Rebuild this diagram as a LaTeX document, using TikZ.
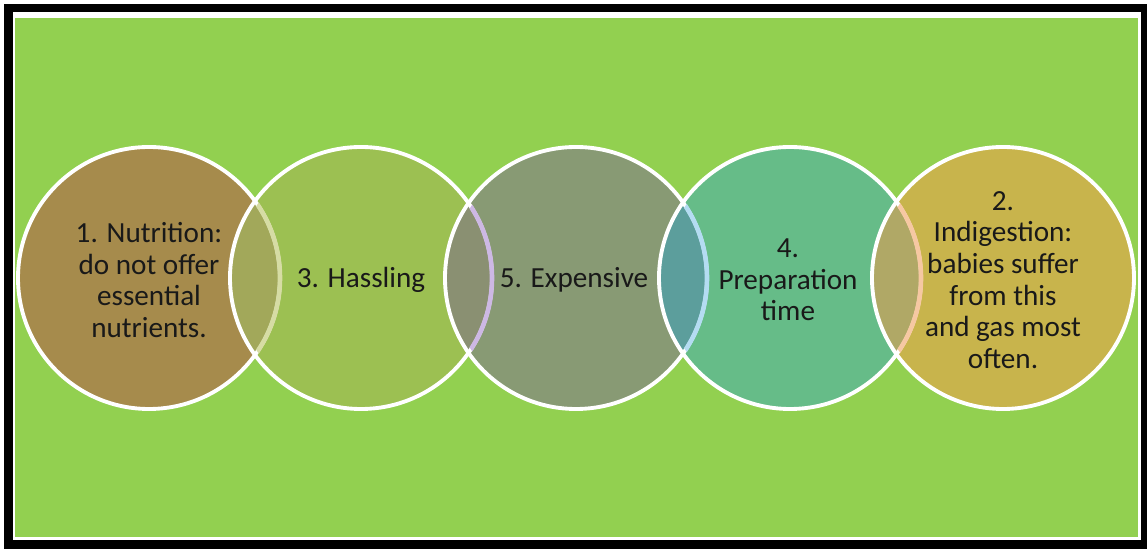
\documentclass[tikz,border=0pt]{standalone}
\usepackage{fontspec}
\setmainfont{Carlito}
\usepackage{xcolor}
\usepackage{tikz}
\usetikzlibrary{positioning}

% fill colours of the five circles and of their overlaps
\definecolor{bggreen}{HTML}{92D050}
\definecolor{circA}{HTML}{A68B4C}
\definecolor{circB}{HTML}{9CC052}
\definecolor{circC}{HTML}{889A74}
\definecolor{circD}{HTML}{66BC88}
\definecolor{circE}{HTML}{C8B44C}
\definecolor{lensA}{HTML}{A2A85A}
\definecolor{lensB}{HTML}{8A9072}
\definecolor{lensC}{HTML}{5C9E9C}
\definecolor{lensD}{HTML}{B0A866}
% inner edges seen through the next circle
\definecolor{edgeA}{HTML}{D6DCA4}
\definecolor{edgeB}{HTML}{CDB8E4}
\definecolor{edgeC}{HTML}{B4DCF2}
\definecolor{edgeD}{HTML}{F6C8A2}

\begin{document}
\begin{tikzpicture}[x=0.2mm, y=0.2mm,
    txt/.style={align=center, text=black!90,
        font=\fontsize{16.6}{18}\selectfont}]
    \useasboundingbox (0,0) rectangle (1147,549);

    % Khung ngoai
    \fill[black] (4,0) rectangle (1147,545);
    \fill[white] (13,9) rectangle (1141,537);
    \fill[bggreen] (15,12) rectangle (1138,531);

    % Cac hinh tron
    \foreach \x/\c in {149/circA, 361/circB, 576/circC, 790/circD, 1003/circE}
        \fill[\c] (\x,271) circle[radius=131];

    % Phan giao nhau
    \foreach \a/\b/\c in {149/361/lensA, 361/576/lensB, 576/790/lensC, 790/1003/lensD}{
        \begin{scope}
            \clip (\b,271) circle[radius=131];
            \fill[\c] (\a,271) circle[radius=131];
        \end{scope}
    }

    % Vien trang
    \foreach \x in {149, 361, 576, 790, 1003}
        \draw[white, line width=2.2pt] (\x,271) circle[radius=131];

    % Vien mo ben trong
    \foreach \a/\b/\c in {149/361/edgeA, 361/576/edgeB, 576/790/edgeC, 790/1003/edgeD}{
        \begin{scope}
            \clip (\b,271) circle[radius=127];
            \draw[\c, line width=2.6pt] (\a,271) circle[radius=131];
        \end{scope}
    }

    % Chu
    \node[txt] (nutrition) at (149,269) {1. Nutrition:\\do not offer\\essential\\nutrients.};
    \node[txt] (hassling) at (361,269) {3. Hassling};
    \node[txt] (expensive) at (574,269) {5. Expensive};
    \node[txt] (preparation) at (788,269) {4.\\Preparation\\time};
    \node[txt] (indigestion) at (1003,269) {2.\\Indigestion:\\babies suffer\\from this\\and gas most\\often.};
\end{tikzpicture}
\end{document}
